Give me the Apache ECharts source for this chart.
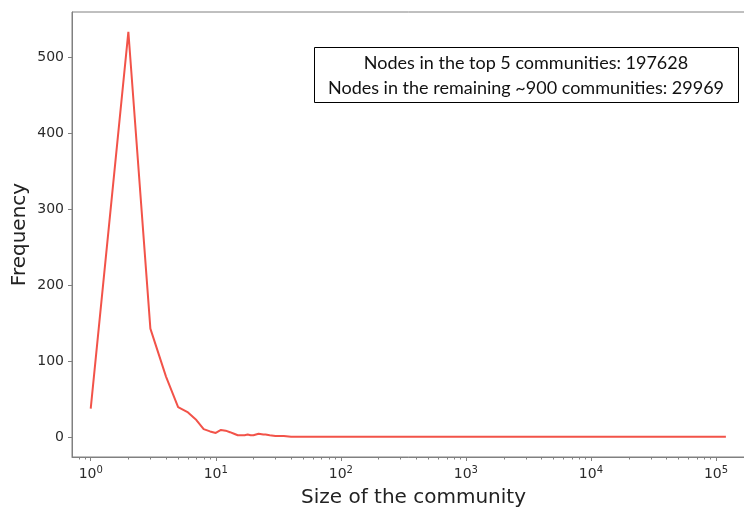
<!DOCTYPE html>
<html>
<head>
<meta charset="utf-8">
<script src="https://cdn.jsdelivr.net/npm/echarts@6/dist/echarts.min.js"></script>
<style>
html,body{margin:0;padding:0;background:#fff;}
#c{width:744px;height:507px;}
</style>
</head>
<body>
<div id="c"></div>
<script>
// community sizes (x) and how many communities have that size (y)
const sizes = [1,2,3,4,5,6,7,8,9,10,11,12,13,14,15,16,17,18,19,20,22,24,25,27,30,33,35,40,45,50,60,75,90,120,150,200,300,500,800,1200,2000,5000,10000,20000,35000,60000,120000];
const freq  = [38,533,143,80,40,33,23,11,8,6,10,9,7,5,3,3,3,4,3,3,5,4,4,3,2,2,2,1,1,1,1,1,1,1,1,1,1,1,1,1,1,1,1,1,1,1,1];
const xTickExps = [0,1,2,3,4,5];
const yTicks = [0,100,200,300,400,500];
const noteLines = ['Nodes in the top 5 communities: 197628', 'Nodes in the remaining ~900 communities: 29969'];

const chart = echarts.init(document.getElementById('c'), null, {renderer:'canvas'});
const gray = '#808080';
const txt = '#2b2b2b';
const font = '"DejaVu Sans", sans-serif';

const option = {
  animation: false,
  backgroundColor: '#fff',
  grid: {left:72, top:12, right:-1, bottom:50, show:true, borderColor:gray, borderWidth:1, containLabel:false, outerBoundsMode:'none'},
  xAxis: {
    type:'log', logBase:10, min:0.7085, max:170600,
    splitNumber:5,
    name:'Size of the community', nameLocation:'middle', nameGap:31, nameMoveOverlap:false,
    nameTextStyle:{fontFamily:font, fontSize:20, color:'#222', padding:[0,0,0,10]},
    axisLine:{show:true, onZero:false, lineStyle:{color:gray, width:1}},
    axisTick:{show:true, length:4, lineStyle:{color:gray}},
    splitLine:{show:false},
    axisLabel:{
      margin:8, showMinLabel:false, showMaxLabel:false,
      formatter: function(v){
        const l = Math.log10(v); const e = Math.round(l);
        if (Math.abs(l-e) > 1e-6 || xTickExps.indexOf(e) < 0) return '';
        return '{b|10}{s|' + e + '}';
      },
      rich:{
        b:{fontFamily:font, fontSize:14, color:txt, lineHeight:16, verticalAlign:'bottom'},
        s:{fontFamily:font, fontSize:10, color:txt, lineHeight:12, verticalAlign:'top'}
      }
    }
  },
  yAxis: {
    type:'value', min:-25.6, max:559,
    name:'Frequency', nameLocation:'middle', nameGap:42, nameMoveOverlap:false,
    nameTextStyle:{fontFamily:font, fontSize:20, color:'#222'},
    axisLine:{show:true, onZero:false, lineStyle:{color:gray, width:1}},
    axisTick:{show:true, length:4, lineStyle:{color:gray}},
    splitLine:{show:false},
    axisLabel:{
      margin:8, showMinLabel:false, showMaxLabel:false,
      fontFamily:font, fontSize:14, color:txt,
      formatter: function(v){ return yTicks.indexOf(Math.round(v*1000)/1000) >= 0 ? String(v) : ''; }
    }
  },
  series: [{
    type:'line', data: sizes.map((s,i)=>[s, freq[i]]),
    showSymbol:false, symbol:'none', smooth:false,
    lineStyle:{color:'#f25349', width:2},
    clip:true
  }]
};
chart.setOption(option);

// minor ticks (2..9 x 10^n) placed through the axis scale, plus note box
const gEls = [];
const yAxisPix = chart.convertToPixel({yAxisIndex:0}, -25.6);
for (let e = -1; e <= 5; e++) {
  for (let m = 2; m <= 9; m++) {
    const v = m * Math.pow(10, e);
    if (v < 0.7085 || v > 170600) continue;
    const px = chart.convertToPixel({xAxisIndex:0}, v);
    gEls.push({type:'line', shape:{x1:Math.round(px)+0.5, y1:yAxisPix, x2:Math.round(px)+0.5, y2:yAxisPix+2.5}, style:{stroke:gray, lineWidth:1}, silent:true});
  }
}
gEls.push({type:'rect', shape:{x:314.5, y:47.5, width:424, height:55}, style:{fill:'#fff', stroke:'#000', lineWidth:1}, z:10});
gEls.push({type:'text', x:526, y:63.5, z:11, style:{text:noteLines[0], fontFamily:'Lato', fontSize:18, fill:'#111', align:'center', verticalAlign:'middle'}});
gEls.push({type:'text', x:526, y:88.5, z:11, style:{text:noteLines[1], fontFamily:'Lato', fontSize:18, fill:'#111', align:'center', verticalAlign:'middle'}});
chart.setOption({graphic: gEls});
</script>
</body>
</html>
